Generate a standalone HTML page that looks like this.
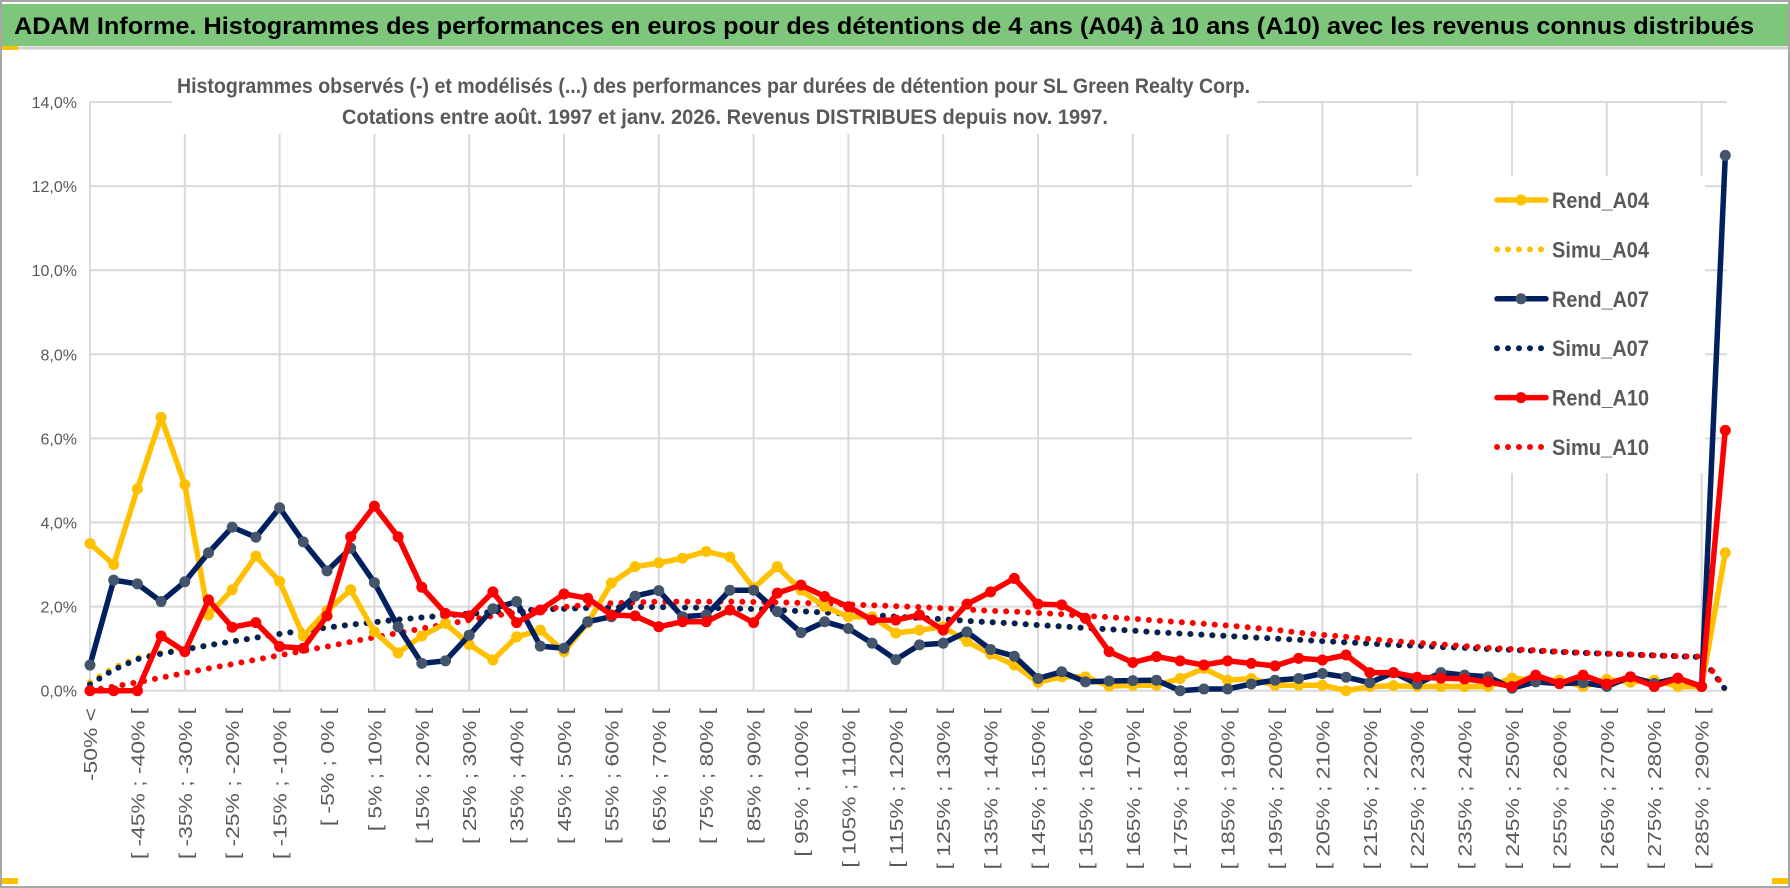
<!DOCTYPE html>
<html><head><meta charset="utf-8">
<style>
html,body{margin:0;padding:0;background:#fff;}
svg{display:block;font-family:"Liberation Sans",sans-serif;}
</style></head>
<body>
<svg id="chart" width="1790" height="888" viewBox="0 0 1790 888" xmlns="http://www.w3.org/2000/svg">
  <rect x="0" y="0" width="1790" height="888" fill="#fff"/>
  <rect x="1" y="1" width="1788" height="886" fill="none" stroke="#a6a6a6" stroke-width="2"/>
  <rect x="2" y="4" width="1786" height="42" fill="#7dc67c"/>
  <line x1="2" y1="48" x2="1788" y2="48" stroke="#d0d0d0" stroke-width="3"/>
  <rect x="2" y="46" width="16" height="4" fill="#ffc000"/>
  <rect x="2" y="878" width="16" height="6" fill="#ffc000"/>
  <rect x="1772" y="878" width="16" height="6" fill="#ffc000"/>
  <text x="14" y="34" font-size="24" font-weight="bold" fill="#000" textLength="1740" lengthAdjust="spacingAndGlyphs">ADAM Informe. Histogrammes des performances en euros pour des détentions de 4 ans (A04) à 10 ans (A10) avec les revenus connus distribués</text>
  <g id="grid"></g>
  <rect x="172" y="62" width="1085" height="72" fill="#fff"/>
  <rect x="1412" y="176" width="293" height="297" fill="#fff"/>
  <text x="177" y="93" font-size="21" font-weight="bold" fill="#595959" textLength="1073" lengthAdjust="spacingAndGlyphs">Histogrammes observés (-) et modélisés (...) des performances par durées de détention pour SL Green Realty Corp.</text>
  <text x="342" y="124" font-size="21" font-weight="bold" fill="#595959" textLength="766" lengthAdjust="spacingAndGlyphs">Cotations entre août. 1997 et janv. 2026. Revenus DISTRIBUES depuis nov. 1997.</text>
  <g id="yaxis"></g>
  <g id="xaxis"></g>
  <g id="series"></g>
  <g id="legend"></g>
</svg>
<script>
const categories = [];
categories.push("-50% <");
for (let k = -50; k <= 285; k += 5) categories.push("[ " + k + "% ; " + (k + 5) + "% [");
categories.push("> 290%");

const yTicks = [0, 2, 4, 6, 8, 10, 12, 14];
const yTickLabels = ["0,0%", "2,0%", "4,0%", "6,0%", "8,0%", "10,0%", "12,0%", "14,0%"];

const rendA04 = [3.5,3.0,4.8,6.5,4.9,1.8,2.4,3.2,2.6,1.3,1.9,2.4,1.4,0.9,1.3,1.6,1.1,0.73,1.28,1.44,0.93,1.61,2.56,2.95,3.04,3.15,3.31,3.18,2.44,2.95,2.39,2.0,1.76,1.76,1.37,1.44,1.52,1.17,0.87,0.61,0.2,0.33,0.33,0.11,0.13,0.13,0.29,0.53,0.25,0.29,0.13,0.13,0.13,0.0,0.1,0.12,0.1,0.1,0.1,0.1,0.3,0.25,0.25,0.1,0.27,0.2,0.25,0.1,0.1,3.28];
const rendA07 = [0.61,2.63,2.54,2.12,2.59,3.28,3.89,3.65,4.35,3.54,2.85,3.39,2.57,1.52,0.65,0.71,1.32,1.95,2.12,1.06,1.01,1.64,1.76,2.25,2.38,1.76,1.8,2.39,2.39,1.88,1.38,1.64,1.48,1.13,0.74,1.09,1.13,1.4,0.98,0.82,0.29,0.45,0.21,0.23,0.24,0.25,0.0,0.04,0.04,0.16,0.25,0.29,0.41,0.32,0.19,0.43,0.16,0.43,0.37,0.33,0.06,0.21,0.17,0.19,0.1,0.33,0.17,0.3,0.1,12.73];
const rendA10 = [0,0,0,1.3,0.93,2.16,1.51,1.62,1.05,1.01,1.78,3.66,4.39,3.66,2.46,1.84,1.78,2.35,1.62,1.92,2.3,2.2,1.8,1.78,1.52,1.64,1.64,1.92,1.62,2.32,2.51,2.24,2.0,1.68,1.68,1.8,1.44,2.06,2.35,2.67,2.06,2.04,1.72,0.93,0.67,0.81,0.71,0.61,0.71,0.65,0.59,0.77,0.73,0.85,0.43,0.43,0.32,0.3,0.28,0.21,0.1,0.37,0.17,0.37,0.16,0.33,0.1,0.3,0.1,6.19];
const simuA04 = [0.2,0.55,0.78,0.9,0.99,1.08,1.17,1.26,1.35,1.43,1.5,1.57,1.63,1.69,1.74,1.79,1.83,1.87,1.9,1.93,1.95,1.97,1.98,1.99,1.99,1.98,1.97,1.96,1.94,1.92,1.89,1.86,1.83,1.8,1.76,1.73,1.7,1.66,1.63,1.6,1.56,1.53,1.49,1.46,1.43,1.39,1.36,1.33,1.3,1.27,1.24,1.21,1.18,1.15,1.12,1.09,1.07,1.04,1.02,0.99,0.97,0.95,0.92,0.9,0.88,0.86,0.84,0.82,0.8,0.03];
const simuA07 = [0.15,0.5,0.75,0.88,0.98,1.08,1.17,1.26,1.35,1.43,1.5,1.57,1.63,1.69,1.74,1.79,1.83,1.87,1.9,1.93,1.95,1.97,1.98,1.99,1.99,1.98,1.97,1.96,1.94,1.92,1.89,1.86,1.83,1.8,1.76,1.73,1.7,1.66,1.63,1.6,1.56,1.53,1.49,1.46,1.43,1.39,1.36,1.33,1.3,1.27,1.24,1.21,1.18,1.15,1.12,1.09,1.07,1.04,1.02,0.99,0.97,0.95,0.92,0.9,0.88,0.86,0.84,0.82,0.8,0.03];
const simuA10 = [0,0.1,0.2,0.31,0.42,0.53,0.63,0.74,0.84,0.95,1.05,1.16,1.27,1.37,1.48,1.58,1.68,1.78,1.86,1.93,1.99,2.04,2.08,2.1,2.12,2.12,2.12,2.12,2.11,2.1,2.09,2.07,2.05,2.03,2.01,1.99,1.96,1.93,1.9,1.88,1.85,1.82,1.78,1.75,1.71,1.67,1.63,1.59,1.55,1.5,1.45,1.38,1.33,1.28,1.23,1.18,1.14,1.1,1.06,1.02,0.99,0.96,0.93,0.9,0.88,0.86,0.84,0.82,0.81,0.05];

const NS = "http://www.w3.org/2000/svg";
const X0 = 90, DX = 23.7, Y0 = 690.7, PX_PER_PCT = 42.05;
const xPos = i => X0 + DX * i;
const yPos = v => Y0 - v * PX_PER_PCT;
const PLOT_RIGHT = 1727;

function mk(tag, attrs, parent) {
  const el = document.createElementNS(NS, tag);
  for (const k in attrs) el.setAttribute(k, attrs[k]);
  parent.appendChild(el);
  return el;
}

const grid = document.getElementById('grid');
yTicks.forEach(t => {
  const l = mk('line', {x1: X0, x2: PLOT_RIGHT, y1: yPos(t), y2: yPos(t), stroke: '#d9d9d9', 'stroke-width': 2}, grid);
  
  
});
for (let i = 0; i < categories.length; i += 4) {
  const l = mk('line', {x1: xPos(i), x2: xPos(i), y1: yPos(14), y2: Y0, stroke: '#d9d9d9', 'stroke-width': 2}, grid);
  
  
}

const yaxis = document.getElementById('yaxis');
yTicks.forEach((t, k) => {
  const tx = mk('text', {x: 77, y: yPos(t) + 6, 'text-anchor': 'end', 'font-size': 16, fill: '#595959'}, yaxis);
  tx.textContent = yTickLabels[k];
  
  
});

const xaxis = document.getElementById('xaxis');
for (let i = 0; i < categories.length - 1; i += 2) {
  const x = xPos(i) + 7;
  const tx = mk('text', {x: 0, y: 0, 'text-anchor': 'end', 'font-size': 18, fill: '#595959', transform: 'translate(' + x + ',708) rotate(-90)'}, xaxis);
  tx.textContent = categories[i];
  
  
  const w = tx.getComputedTextLength();
  if (w > 0) {
    tx.setAttribute('textLength', (w * 1.27).toFixed(1));
    tx.setAttribute('lengthAdjust', 'spacingAndGlyphs');
  }
}

const series = document.getElementById('series');
function pts(arr) { return arr.map((v, i) => xPos(i).toFixed(1) + ',' + yPos(v).toFixed(1)).join(' '); }
function dotted(arr, color, name) {
  const p = mk('polyline', {points: pts(arr), fill: 'none', stroke: color, 'stroke-width': 6, 'stroke-linecap': 'round', 'stroke-dasharray': '0 11'}, series);
  
  
}
function solid(arr, color, mcolor, name) {
  const g = mk('g', {}, series);
  
  
  mk('polyline', {points: pts(arr), fill: 'none', stroke: color, 'stroke-width': 5.5, 'stroke-linejoin': 'round'}, g);
  arr.forEach((v, i) => {
    const c = mk('circle', {cx: xPos(i), cy: yPos(v), r: 5.5, fill: mcolor}, g);
    
    
  });
}
dotted(simuA04, '#ffc000', 'simu-a04-line');
dotted(simuA07, '#002060', 'simu-a07-line');
dotted(simuA10, '#ff0000', 'simu-a10-line');
solid(rendA04, '#ffc000', '#ffc000', 'rend-a04-line');
solid(rendA07, '#002060', '#44546a', 'rend-a07-line');
solid(rendA10, '#ff0000', '#ff0000', 'rend-a10-line');

const legend = document.getElementById('legend');
const legendNames = ["Rend_A04", "Simu_A04", "Rend_A07", "Simu_A07", "Rend_A10", "Simu_A10"];
const legendColors = ["#ffc000", "#ffc000", "#002060", "#002060", "#ff0000", "#ff0000"];
const legendMarker = ["#ffc000", null, "#44546a", null, "#ff0000", null];
legendNames.forEach((n, k) => {
  const y = 200 + k * 49.4;
  const g = mk('g', {}, legend);
  
  
  if (k % 2 === 0) {
    mk('line', {x1: 1497, x2: 1546, y1: y, y2: y, stroke: legendColors[k], 'stroke-width': 5.5, 'stroke-linecap': 'round'}, g);
    mk('circle', {cx: 1521, cy: y, r: 5.5, fill: legendMarker[k]}, g);
  } else {
    mk('line', {x1: 1497, x2: 1546, y1: y, y2: y, stroke: legendColors[k], 'stroke-width': 6, 'stroke-linecap': 'round', 'stroke-dasharray': '0 11'}, g);
  }
  const t = mk('text', {x: 1552, y: y + 8, 'font-size': 22, 'font-weight': 'bold', fill: '#595959', textLength: 97, lengthAdjust: 'spacingAndGlyphs'}, g);
  t.textContent = n;
});
</script>
</body></html>
